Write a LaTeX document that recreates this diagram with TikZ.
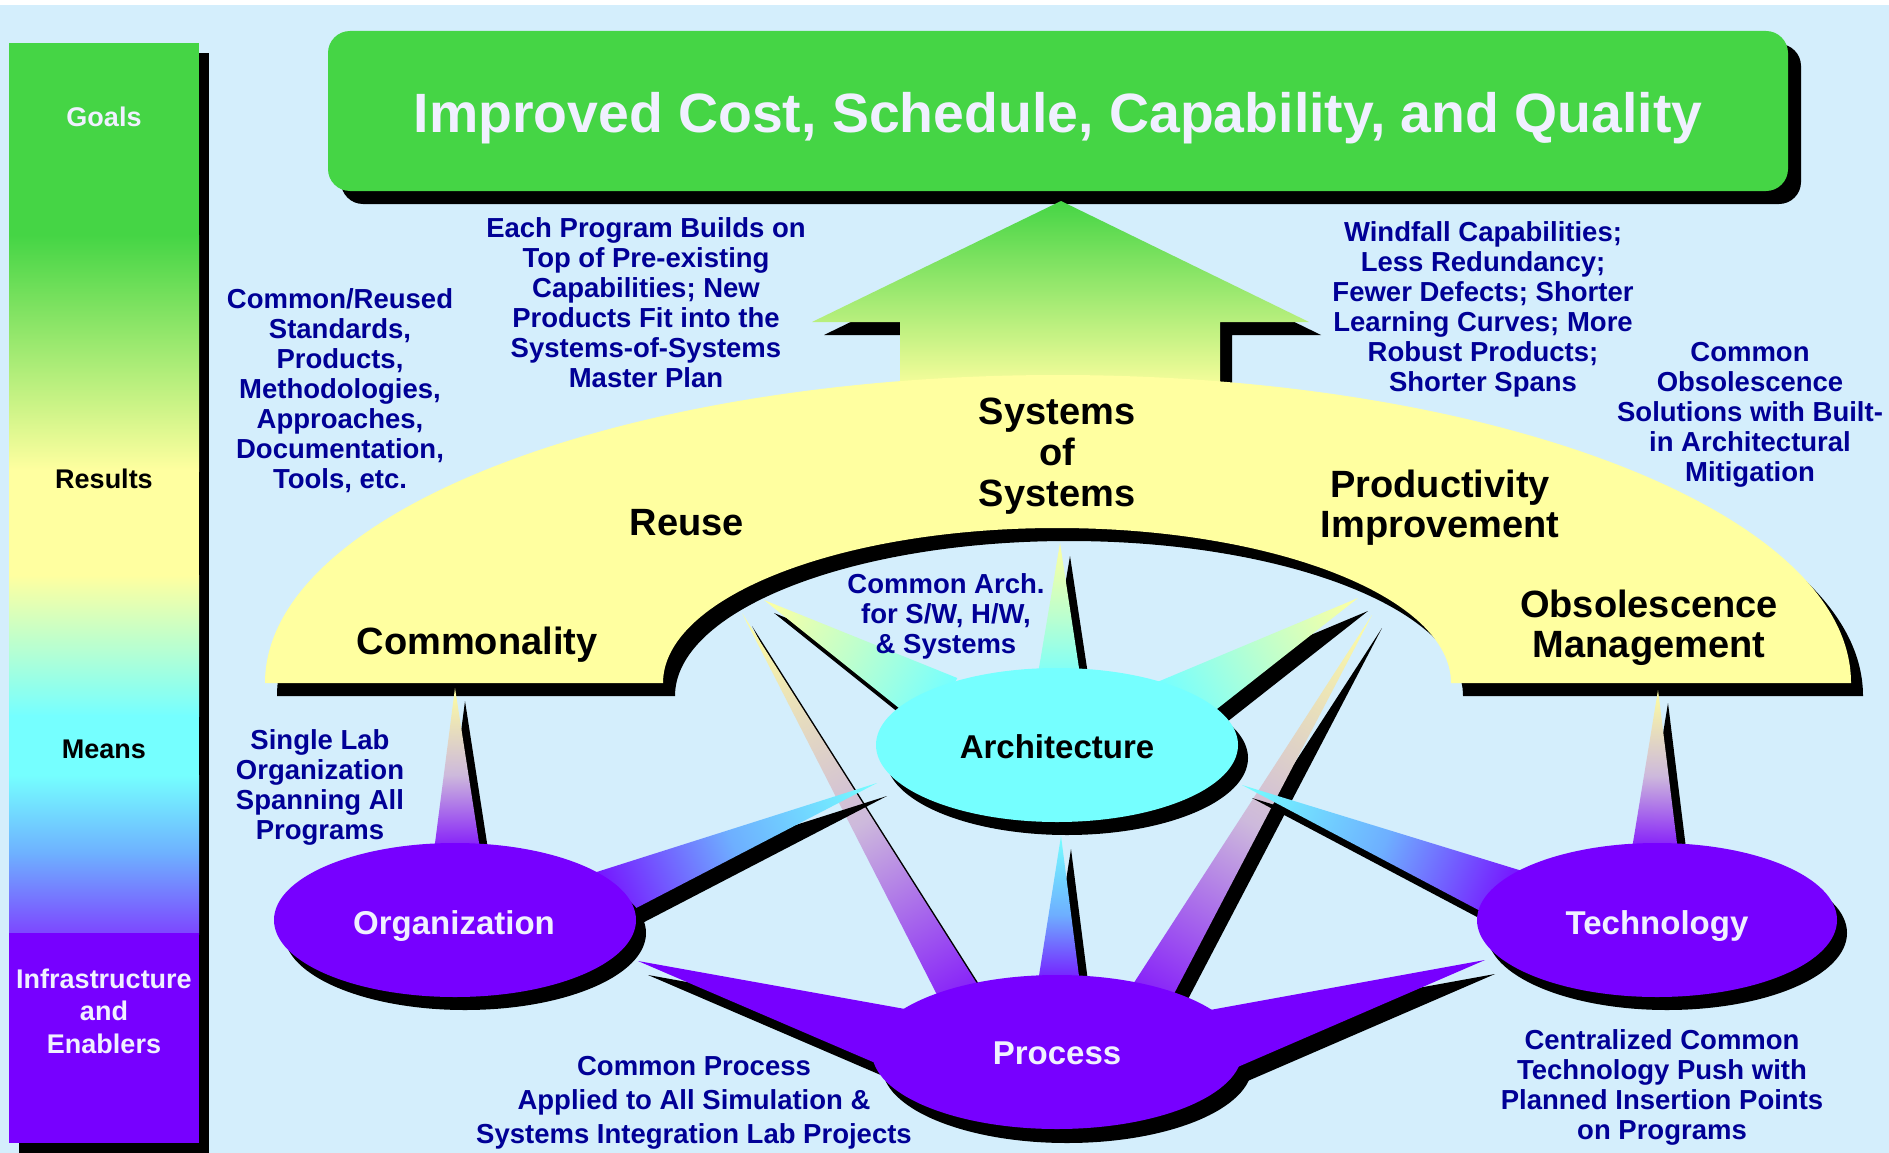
\documentclass[tikz,border=0pt]{standalone}
\usepackage{fontspec}
\setmainfont{Liberation Sans}
\definecolor{bgblue}{RGB}{212,238,252}
\definecolor{ggreen}{RGB}{69,213,69}
\definecolor{lyellow}{RGB}{255,255,160}
\definecolor{acyan}{RGB}{117,255,255}
\definecolor{vpurple}{RGB}{119,0,255}
\definecolor{navy}{RGB}{0,0,150}
\definecolor{offwhite}{RGB}{240,240,255}
\definecolor{lav}{RGB}{205,185,220}
\definecolor{midblue}{RGB}{110,175,255}
\definecolor{midgreen}{RGB}{190,255,205}
\definecolor{endpurple}{RGB}{125,70,255}
\tikzset{
  yp/.style={left color=lyellow, right color=vpurple, middle color=lav},
  yc/.style={left color=lyellow, right color=acyan, middle color=midgreen},
  cp/.style={left color=acyan, right color=vpurple, middle color=midblue},
  bluetext/.style={text=navy, font=\bfseries\fontsize{27.5}{30}\selectfont, align=center, inner sep=0pt},
  archtext/.style={text=black, font=\bfseries\fontsize{38}{41}\selectfont, align=center, inner sep=0pt},
  elltext/.style={font=\bfseries\fontsize{33}{36}\selectfont, inner sep=0pt, anchor=base},
  bartext/.style={font=\bfseries\fontsize{27}{32.5}\selectfont, align=center, inner sep=0pt},
}
% spike: tip x, tip y, base x, base y, half width, shading style
\newcommand\spike[6]{%
  \pgfmathsetmacro\sdx{#3-#1}%
  \pgfmathsetmacro\sdy{#4-#2}%
  \pgfmathsetmacro\sang{atan2(-\sdy,\sdx)}%
  \pgfmathsetmacro\slen{1.12*veclen(\sdx,\sdy)}%
  \pgfmathsetmacro\shw{1.12*#5}%
  \begin{scope}[transform canvas={shift={(#1+10,#2+13)},rotate=\sang}]
    \fill[black] (0,0) -- (\slen,\shw) -- (\slen,-\shw) -- cycle;
  \end{scope}
  \begin{scope}[transform canvas={shift={(#1,#2)},rotate=\sang}]
    \shade[#6] (0,0) -- (\slen,\shw) -- (\slen,-\shw) -- cycle;
  \end{scope}}
\def\archpath{(265,683) arc[start angle=180, end angle=360, x radius=793, y radius=308] -- (1451,683) arc[start angle=0, end angle=-180, x radius=394, y radius=155] -- cycle}
\def\arrowpath{(1061,201) -- (1309,322) -- (1220,322) -- (1220,395) -- (900,395) -- (900,322) -- (812,322) -- cycle}
\def\procpoly{(638,961) -- (905,1009) -- (1210,1010) -- (1485,960) -- (1233,1069) -- (880,1065) -- cycle}
\begin{document}
\begin{tikzpicture}[x=1pt, y=-1pt]
\useasboundingbox (0,0) rectangle (1889,1153);
% background
\fill[white] (0,0) rectangle (1889,1153);
\fill[bgblue] (0,5) rectangle (1889,1153);
% left scale bar
\fill[black] (19,53) rectangle (209,1153);
\fill[ggreen] (9,43) rectangle (199,236);
\shade[top color=ggreen, bottom color=lyellow] (9,235) rectangle (199,471);
\fill[lyellow] (9,470) rectangle (199,576);
\shade[top color=lyellow, bottom color=acyan] (9,575) rectangle (199,716);
\fill[acyan] (9,715) rectangle (199,776);
\shade[top color=acyan, bottom color=endpurple, middle color=midblue] (9,775) rectangle (199,934);
\fill[vpurple] (9,933) rectangle (199,1143);
\node[bartext, text=offwhite, anchor=base] (goals) at (104,126.5) {Goals};
\node[bartext, text=black, anchor=base] (results) at (104,488) {Results};
\node[bartext, text=black, anchor=base] (means) at (104,758) {Means};
\node[bartext, text=offwhite] (infra) at (104,1011) {Infrastructure\\and\\Enablers};
% title
\fill[black, rounded corners=22] (341,44) rectangle (1801,204);
\fill[ggreen, rounded corners=22] (328,31) rectangle (1788,191);
\node[font=\bfseries\fontsize{55.4}{60}\selectfont, text=offwhite, anchor=base, inner sep=0pt] (title) at (1058,132) {Improved Cost, Schedule, Capability, and Quality};
% shadows of arrow and arch
\begin{scope}[shift={(12,13)}]
  \fill[black] \arrowpath;
  \fill[black] \archpath;
\end{scope}
\shade[top color=ggreen, bottom color=lyellow] \arrowpath;
\fill[lyellow] \archpath;
% spikes
\spike{742}{613}{956}{988}{20}{yp}
\spike{1372}{615}{1155}{987}{20}{yp}
\spike{1061}{836}{1059}{976}{20}{cp}
\spike{455}{688}{457}{843}{22}{yp}
\spike{1658}{690}{1655}{843}{22}{yp}
\spike{1060}{543}{1059}{668}{20}{yc}
\spike{764}{600}{923}{693}{27}{yc}
\spike{1358}{598}{1193}{695}{26}{yc}
\spike{877}{783}{619}{890}{24}{cp}
\spike{1242}{785}{1496}{890}{26}{cp}
% process
\begin{scope}[shift={(10,14)}]
  \fill[black] \procpoly;
  \fill[black] (1057,1052) ellipse [x radius=185, y radius=77];
\end{scope}
\fill[vpurple] \procpoly;
\fill[vpurple] (1057,1052) ellipse [x radius=185, y radius=77];
% ellipses
\fill[black] (1067,758) ellipse [x radius=181, y radius=77];
\fill[acyan] (1057,745) ellipse [x radius=181, y radius=77];
\fill[black] (465,933) ellipse [x radius=181, y radius=77];
\fill[vpurple] (455,920) ellipse [x radius=181, y radius=77];
\fill[black] (1667,933) ellipse [x radius=180, y radius=77];
\fill[vpurple] (1657,920) ellipse [x radius=180, y radius=77];
\node[elltext, text=black] (architecture) at (1057,758.5) {Architecture};
\node[elltext, text=offwhite] (organization) at (454,934) {Organization};
\node[elltext, text=offwhite] (technology) at (1657,934) {Technology};
\node[elltext, text=offwhite] (process) at (1057,1064) {Process};
% arch labels
\node[archtext, anchor=base] (reuse) at (687,535) {Reuse};
\node[archtext, anchor=base] (commonality) at (477,654) {Commonality};
\node[archtext] (sos) at (1057,456) {Systems\\of\\Systems};
\node[archtext, font=\bfseries\fontsize{38}{40}\selectfont] (prod) at (1440,508) {Productivity\\Improvement};
\node[archtext, font=\bfseries\fontsize{38}{40}\selectfont] (obs) at (1649,628) {Obsolescence\\Management};
% blue annotations
\node[bluetext] (reusedtxt) at (340,391) {Common/Reused\\Standards,\\Products,\\Methodologies,\\Approaches,\\Documentation,\\Tools, etc.};
\node[bluetext] (eachtxt) at (646,303) {Each Program Builds on\\Top of Pre-existing\\Capabilities; New\\Products Fit into the\\Systems-of-Systems\\Master Plan};
\node[bluetext] (windtxt) at (1483,309) {Windfall Capabilities;\\Less Redundancy;\\Fewer Defects; Shorter\\Learning Curves; More\\Robust Products;\\Shorter Spans};
\node[bluetext] (obstxt) at (1750,415) {Common\\Obsolescence\\Solutions with Built-\\in Architectural\\Mitigation};
\node[bluetext] (archtxt) at (946,616) {Common Arch.\\for S/W, H/W,\\\& Systems};
\node[bluetext] (labtxt) at (320,787) {Single Lab\\Organization\\Spanning All\\Programs};
\node[bluetext, font=\bfseries\fontsize{27.5}{33.8}\selectfont] (proctxt) at (694,1103) {Common Process\\Applied to All Simulation \&\\Systems Integration Lab Projects};
\node[bluetext] (techtxt) at (1662,1087) {Centralized Common\\Technology Push with\\Planned Insertion Points\\on Programs};
\end{tikzpicture}
\end{document}
